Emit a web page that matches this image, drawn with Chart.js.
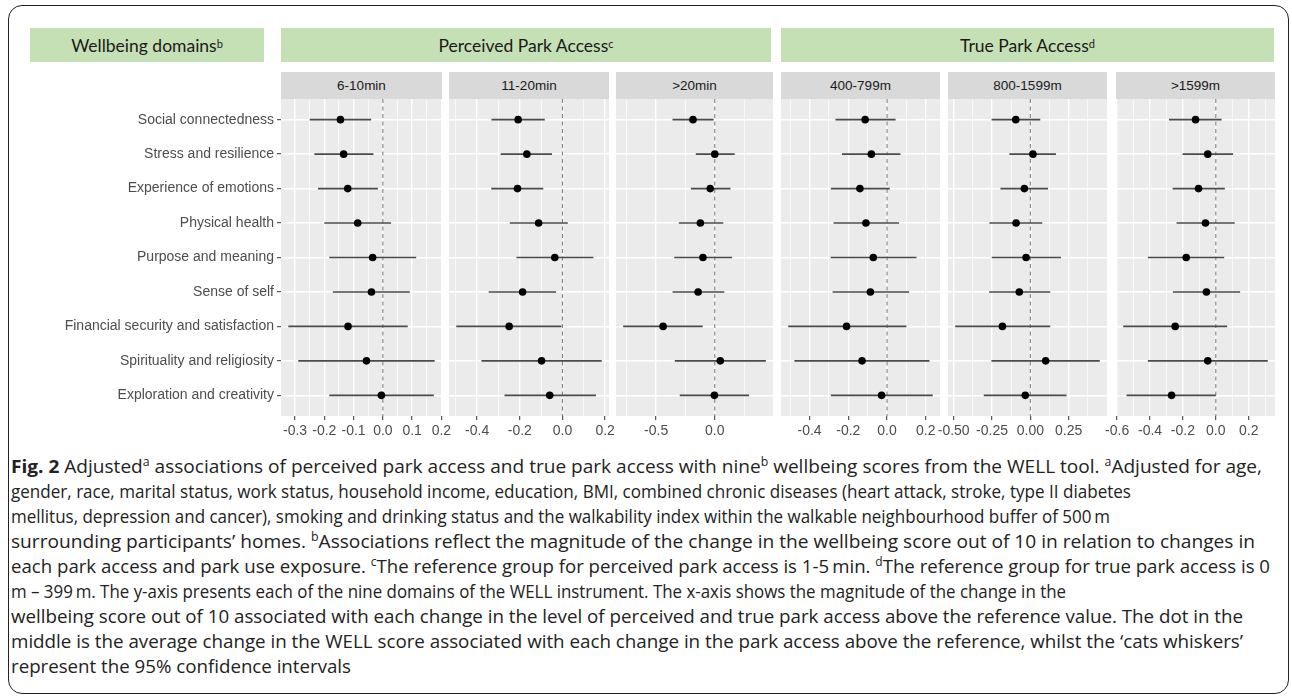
<!DOCTYPE html>
<html><head><meta charset="utf-8">
<script src="https://cdn.jsdelivr.net/npm/chart.js@4.4.1/dist/chart.umd.min.js"></script>
<style>
html,body{margin:0;padding:0;}
body{width:1292px;height:700px;background:#fff;position:relative;overflow:hidden;font-family:"Liberation Sans",Arial,sans-serif;}
.frame{position:absolute;left:8px;top:5px;width:1281px;height:689px;border:1.5px solid #222;border-radius:14px;box-sizing:border-box;}
.green{position:absolute;background:#C5E0B4;top:28px;height:34px;display:flex;align-items:center;justify-content:center;font-family:Lato,"Open Sans",sans-serif;font-size:17.5px;color:#1a1a1a;}
.green sup{font-size:11px;line-height:0;position:relative;top:-1px;}
.strip{position:absolute;top:72px;height:27px;background:#D9D9D9;display:flex;align-items:center;justify-content:center;font-size:13.5px;color:#1A1A1A;}
.cap{position:absolute;left:11px;top:453px;font-family:"Open Sans",sans-serif;font-size:18.6px;line-height:25px;color:#222;white-space:nowrap;}
.cap > span{display:block;height:25px;}
.cap > span > span{display:inline-block;transform-origin:0 50%;}
.cap sup{font-size:12px;line-height:0;vertical-align:7px;}
.cw{position:absolute;}
</style></head>
<body>
<div class="frame"></div>
<div class="green" style="left:30px;width:234px;">Wellbeing domains<sup>b</sup></div>
<div class="green" style="left:281px;width:490px;">Perceived Park Access<sup>c</sup></div>
<div class="green" style="left:781px;width:493px;">True Park Access<sup>d</sup></div>
<div class="cap" id="cap">
<span><span><b>Fig. 2</b> Adjusted<sup>a</sup> associations of perceived park access and true park access with nine<sup>b</sup> wellbeing scores from the WELL tool. <sup>a</sup>Adjusted for age,</span></span>
<span><span>gender, race, marital status, work status, household income, education, BMI, combined chronic diseases (heart attack, stroke, type II diabetes</span></span>
<span><span>mellitus, depression and cancer), smoking and drinking status and the walkability index within the walkable neighbourhood buffer of 500&#8201;m</span></span>
<span><span>surrounding participants’ homes. <sup>b</sup>Associations reflect the magnitude of the change in the wellbeing score out of 10 in relation to changes in</span></span>
<span><span>each park access and park use exposure. <sup>c</sup>The reference group for perceived park access is 1-5&#8201;min. <sup>d</sup>The reference group for true park access is 0</span></span>
<span><span>m – 399&#8201;m. The y-axis presents each of the nine domains of the WELL instrument. The x-axis shows the magnitude of the change in the</span></span>
<span><span>wellbeing score out of 10 associated with each change in the level of perceived and true park access above the reference value. The dot in the</span></span>
<span><span>middle is the average change in the WELL score associated with each change in the park access above the reference, whilst the ‘cats whiskers’</span></span>
<span><span>represent the 95% confidence intervals</span></span>
</div>
<script>
const categories = ["Social connectedness","Stress and resilience","Experience of emotions","Physical health","Purpose and meaning","Sense of self","Financial security and satisfaction","Spirituality and religiosity","Exploration and creativity"];
const panelTitles = ["6-10min","11-20min",">20min","400-799m","800-1599m",">1599m"];

// Perceived park access 6-10min
const est610 = [-0.145,-0.134,-0.120,-0.086,-0.035,-0.039,-0.119,-0.056,-0.005];
const lo610  = [-0.250,-0.234,-0.222,-0.200,-0.183,-0.171,-0.323,-0.289,-0.183];
const hi610  = [-0.040,-0.032,-0.017, 0.028, 0.114, 0.092, 0.085, 0.177, 0.174];
// 11-20min
const est1120 = [-0.208,-0.167,-0.211,-0.112,-0.036,-0.187,-0.250,-0.098,-0.060];
const lo1120  = [-0.333,-0.290,-0.334,-0.247,-0.216,-0.346,-0.498,-0.380,-0.272];
const hi1120  = [-0.083,-0.049,-0.090, 0.025, 0.145,-0.030,-0.005, 0.184, 0.157];
// >20min
const est20 = [-0.186, 0.000,-0.039,-0.123,-0.101,-0.142,-0.441, 0.047,-0.003];
const lo20  = [-0.361,-0.162,-0.204,-0.307,-0.346,-0.360,-0.782,-0.341,-0.299];
const hi20  = [-0.010, 0.170, 0.134, 0.073, 0.148, 0.081,-0.103, 0.436, 0.293];
// True park access 400-799m
const est400 = [-0.113,-0.081,-0.140,-0.109,-0.071,-0.086,-0.209,-0.129,-0.028];
const lo400  = [-0.266,-0.233,-0.290,-0.276,-0.291,-0.281,-0.510,-0.478,-0.290];
const hi400  = [ 0.044, 0.069, 0.014, 0.062, 0.152, 0.114, 0.100, 0.219, 0.236];
// 800-1599m
const est800 = [-0.095, 0.017,-0.039,-0.093,-0.028,-0.072,-0.182, 0.100,-0.033];
const lo800  = [-0.253,-0.137,-0.195,-0.267,-0.252,-0.269,-0.490,-0.254,-0.304];
const hi800  = [ 0.065, 0.167, 0.115, 0.078, 0.200, 0.130, 0.130, 0.453, 0.236];
// >1599m
const est1599 = [-0.123,-0.049,-0.105,-0.063,-0.180,-0.057,-0.247,-0.049,-0.269];
const lo1599  = [-0.285,-0.202,-0.263,-0.239,-0.413,-0.261,-0.563,-0.413,-0.543];
const hi1599  = [ 0.035, 0.105, 0.055, 0.115, 0.051, 0.148, 0.069, 0.316, 0.000];

// tick labels per panel
const ticks610  = ["-0.3","-0.2","-0.1","0.0","0.1","0.2"];
const ticks1120 = ["-0.4","-0.2","0.0","0.2"];
const ticks20   = ["-0.5","0.0"];
const ticks400  = ["-0.4","-0.2","0.0","0.2"];
const ticks800  = ["-0.50","-0.25","0.00","0.25"];
const ticks1599 = ["-0.6","-0.4","-0.2","0.0","0.2"];

const panels = [
  {title:panelTitles[0], est:est610,  lo:lo610,  hi:hi610,  ticks:ticks610},
  {title:panelTitles[1], est:est1120, lo:lo1120, hi:hi1120, ticks:ticks1120},
  {title:panelTitles[2], est:est20,   lo:lo20,   hi:hi20,   ticks:ticks20},
  {title:panelTitles[3], est:est400,  lo:lo400,  hi:hi400,  ticks:ticks400},
  {title:panelTitles[4], est:est800,  lo:lo800,  hi:hi800,  ticks:ticks800},
  {title:panelTitles[5], est:est1599, lo:lo1599, hi:hi1599, ticks:ticks1599}
];
// layout (pixel positions of panels)
const bounds = [[281,442],[449,609],[616,773],[781,940],[948,1107],[1116,1275]];
const PLOT_TOP = 99, PLOT_H = 317, AXIS_H = 30, PAD = 30;
const FONT = "'Liberation Sans', Arial, sans-serif";

// caption line right edges (layout)
const capEnds = [1262,1131,1110,1255,1270,1066,1243,1243,351];
function fitCaption(){
  const lines = document.querySelectorAll('#cap > span > span');
  lines.forEach((el, i) => {
    el.style.transform = 'none';
    const r = el.getBoundingClientRect();
    const s = (capEnds[i] - r.left) / r.width;
    el.style.transform = `scaleX(${s})`;
  });
}
fitCaption();
if (document.fonts && document.fonts.ready) document.fonts.ready.then(fitCaption);

const bgPlugin = {id:'bg', beforeDraw(chart){const {ctx, chartArea:a} = chart; ctx.save(); ctx.fillStyle='#EBEBEB'; ctx.fillRect(a.left, a.top, a.right-a.left, a.bottom-a.top); ctx.restore();}};

panels.forEach((p, k) => {
  const [L, R] = bounds[k];
  const first = k === 0;
  const st = document.createElement('div');
  st.className = 'strip';
  st.style.left = L + 'px'; st.style.width = (R - L) + 'px';
  st.textContent = p.title;
  document.body.appendChild(st);

  const cl = first ? 0 : L - PAD;
  const cw = R + PAD - cl;
  const H = PLOT_H + AXIS_H;
  const wrap = document.createElement('div');
  wrap.className = 'cw';
  wrap.style.cssText = `left:${cl}px;top:${PLOT_TOP}px;width:${cw}px;height:${H}px;`;
  const cv = document.createElement('canvas');
  cv.width = cw; cv.height = H;
  cv.style.width = cw + 'px'; cv.style.height = H + 'px';
  wrap.appendChild(cv);
  document.body.appendChild(wrap);

  const majors = p.ticks.map(Number);
  const lo = Math.min(0, ...p.lo), hi = Math.max(0, ...p.hi);
  const ex = (hi - lo) * 0.05;
  const xmin = lo - ex, xmax = hi + ex;
  const step = majors.length > 1 ? majors[1] - majors[0] : 0.5;
  const minors = [];
  for (let i = -1; i < majors.length; i++) {
    const m = (i < 0 ? majors[0] - step : majors[i]) + step / 2;
    if (m > xmin && m < xmax) minors.push(m);
  }
  const allTicks = majors.concat(minors).sort((a,b)=>a-b);
  const isMajor = v => majors.some(m => Math.abs(m - v) < 1e-9);
  const labelFor = v => { const i = majors.findIndex(m => Math.abs(m - v) < 1e-9); return i >= 0 ? p.ticks[i] : ''; };

  const datasets = [];
  datasets.push({data: p.est.map((v,i)=>({x:v, y:i+1})), pointRadius:3.8, pointBackgroundColor:'#000', pointBorderColor:'#000', pointBorderWidth:0, showLine:false, order:0});
  p.lo.forEach((l,i) => datasets.push({data:[{x:l,y:i+1},{x:p.hi[i],y:i+1}], showLine:true, borderColor:'#4a4a4a', borderWidth:1.6, pointRadius:0, order:1}));
  datasets.push({data:[{x:0,y:0.4},{x:0,y:9.6}], showLine:true, borderColor:'#808080', borderWidth:1.1, borderDash:[4,3.5], pointRadius:0, order:2});

  new Chart(cv, {
    type:'scatter',
    data:{datasets},
    plugins:[bgPlugin],
    options:{
      responsive:false, animation:false, events:[],
      layout:{autoPadding:false, padding:{left: first ? 0 : PAD, right: PAD, top:0, bottom:0}},
      plugins:{legend:{display:false}, tooltip:{enabled:false}},
      scales:{
        x:{type:'linear', min:xmin, max:xmax,
          afterBuildTicks: s => { s.ticks = allTicks.map(v => ({value:v})); },
          ticks:{callback: v => labelFor(v), color:'#4D4D4D', font:{family:FONT, size:14}, padding:3, maxRotation:0, minRotation:0, autoSkip:false},
          grid:{color:'#FFFFFF', lineWidth: c => isMajor(c.tick.value) ? 1.4 : 0.7, drawTicks:true, tickLength:4,
                tickColor: c => isMajor(c.tick.value) ? '#333333' : 'rgba(0,0,0,0)', tickWidth:1},
          border:{display:false},
          afterFit: s => { s.height = AXIS_H; s.paddingLeft = 0; s.paddingRight = 0; }
        },
        y:{type:'linear', reverse:true, min:0.4, max:9.6,
          afterBuildTicks: s => { s.ticks = categories.map((c,i) => ({value:i+1})); },
          ticks:{display:first, callback: v => categories[Math.round(v)-1], color:'#4D4D4D', font:{family:FONT, size:14}, padding:3, autoSkip:false},
          grid:{color:'#FFFFFF', lineWidth:1.4, drawTicks:first, tickLength:4, tickColor:'#333333', tickWidth:1},
          border:{display:false},
          afterFit: s => { s.width = first ? L : 0; s.paddingTop = 0; s.paddingBottom = 0; }
        }
      }
    }
  });
});
</script>
</body></html>
